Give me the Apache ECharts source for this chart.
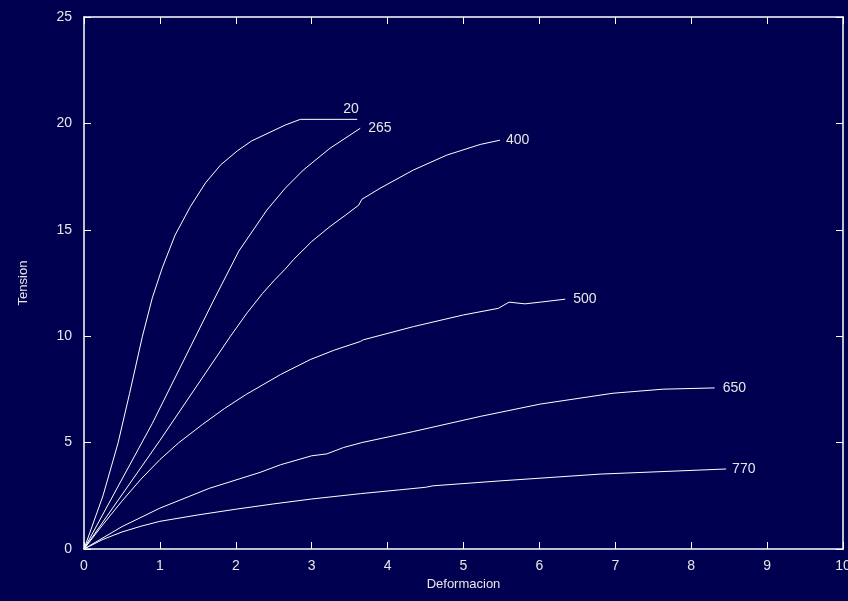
<!DOCTYPE html>
<html>
<head>
<meta charset="utf-8">
<script src="https://cdn.jsdelivr.net/npm/echarts@6/dist/echarts.min.js"></script>
<style>
  html, body { margin: 0; padding: 0; background: #000050; }
  #chart { width: 848px; height: 601px; }
</style>
</head>
<body>
<div id="chart"></div>
<script>
// curves: [deformacion, tension]
var curve20 = [[0, 0], [0.25, 2.5], [0.45, 5.0], [0.6, 7.3], [0.77, 10.0], [0.9, 11.8], [1.03, 13.2], [1.2, 14.75],
  [1.4, 16.08], [1.6, 17.2], [1.8, 18.05], [2.02, 18.71], [2.21, 19.18], [2.65, 19.92], [2.85, 20.19], [3.6, 20.19]];
var curve265 = [[0, 0], [0.9, 5.9], [1.71, 11.7], [2.04, 14.0], [2.41, 15.93], [2.65, 16.95], [2.89, 17.81],
  [3.24, 18.83], [3.64, 19.77]];
var curve400 = [[0, 0], [1.0, 5.1], [1.93, 10.0], [2.15, 11.1], [2.35, 12.0], [2.5, 12.6], [2.65, 13.15], [2.76, 13.6],
  [3.0, 14.45], [3.24, 15.15], [3.45, 15.7], [3.62, 16.16], [3.66, 16.43], [3.9, 16.95], [4.34, 17.81],
  [4.78, 18.51], [5.22, 19.01], [5.48, 19.21]];
var curve500 = [[0, 0], [0.25, 1.15], [0.5, 2.25], [0.75, 3.28], [1.0, 4.2], [1.25, 5.0], [1.56, 5.85], [1.85, 6.6],
  [2.13, 7.25], [2.59, 8.2], [2.98, 8.9], [3.3, 9.35], [3.64, 9.75], [3.68, 9.83], [4.34, 10.45], [5.0, 11.0],
  [5.46, 11.31], [5.6, 11.6], [5.81, 11.52], [6.01, 11.6], [6.34, 11.74]];
var curve650 = [[0, 0], [0.5, 1.05], [1.0, 1.92], [1.65, 2.85], [2.32, 3.6], [2.59, 3.96], [3.0, 4.38], [3.2, 4.47],
  [3.42, 4.77], [3.66, 5.0], [4.34, 5.52], [5.22, 6.23], [6.01, 6.81], [6.97, 7.32], [7.63, 7.51], [8.31, 7.57]];
var curve770 = [[0, 0], [0.25, 0.45], [0.5, 0.8], [0.75, 1.07], [1.0, 1.3], [1.5, 1.6], [2.0, 1.87], [2.5, 2.12],
  [3.0, 2.35], [3.64, 2.6], [4.16, 2.78], [4.5, 2.9], [4.6, 2.97], [5.48, 3.2], [6.8, 3.52], [8.46, 3.76]];
var curveNames = ['20', '265', '400', '500', '650', '770'];

var textColor = '#e6e6e6';
var chart = echarts.init(document.getElementById('chart'));

function curve(name, data, offset) {
  return {
    name: name,
    type: 'line',
    data: data,
    showSymbol: false,
    lineStyle: { color: '#ffffff', width: 1 },
    endLabel: {
      show: true,
      formatter: name,
      color: textColor,
      fontFamily: 'Liberation Sans',
      fontSize: 14,
      offset: offset || [0, 0]
    },
    xAxisIndex: 0,
    yAxisIndex: 0
  };
}

var axisLine = { show: true, onZero: false, lineStyle: { color: '#ffffff', width: 1.5 } };
var axisTick = { show: true, inside: true, length: 7, lineStyle: { color: '#ffffff', width: 1 } };

var option = {
  backgroundColor: '#000050',
  animation: false,
  grid: { left: 84, right: 5, top: 17, bottom: 52, outerBoundsMode: 'none', containLabel: false },
  xAxis: [{
    type: 'value', min: 0, max: 10, interval: 1,
    name: 'Deformacion', nameLocation: 'middle', nameGap: 28,
    nameTextStyle: { color: textColor, fontFamily: 'Liberation Sans', fontSize: 13 },
    axisLine: axisLine, axisTick: axisTick, splitLine: { show: false },
    axisLabel: { color: textColor, fontFamily: 'Liberation Sans', fontSize: 14, margin: 10 }
  }, {
    type: 'value', min: 0, max: 10, interval: 1, position: 'top',
    axisLine: axisLine, axisTick: axisTick, splitLine: { show: false },
    axisLabel: { show: false }
  }],
  yAxis: [{
    type: 'value', min: 0, max: 25, interval: 5,
    name: 'Tension', nameLocation: 'middle', nameGap: 54,
    nameTextStyle: { color: textColor, fontFamily: 'Liberation Sans', fontSize: 13 },
    axisLine: axisLine, axisTick: axisTick, splitLine: { show: false },
    axisLabel: { color: textColor, fontFamily: 'Liberation Sans', fontSize: 14, margin: 12 }
  }, {
    type: 'value', min: 0, max: 25, interval: 5, position: 'right',
    axisLine: axisLine, axisTick: axisTick, splitLine: { show: false },
    axisLabel: { show: false }
  }],
  series: [
    curve(curveNames[0], curve20, [-22, -10]),
    curve(curveNames[1], curve265, [0, 0]),
    curve(curveNames[2], curve400, [-2, 0]),
    curve(curveNames[3], curve500, [0, 0]),
    curve(curveNames[4], curve650, [0, 0]),
    curve(curveNames[5], curve770, [-2, 0])
  ]
};
chart.setOption(option);
</script>
</body>
</html>
